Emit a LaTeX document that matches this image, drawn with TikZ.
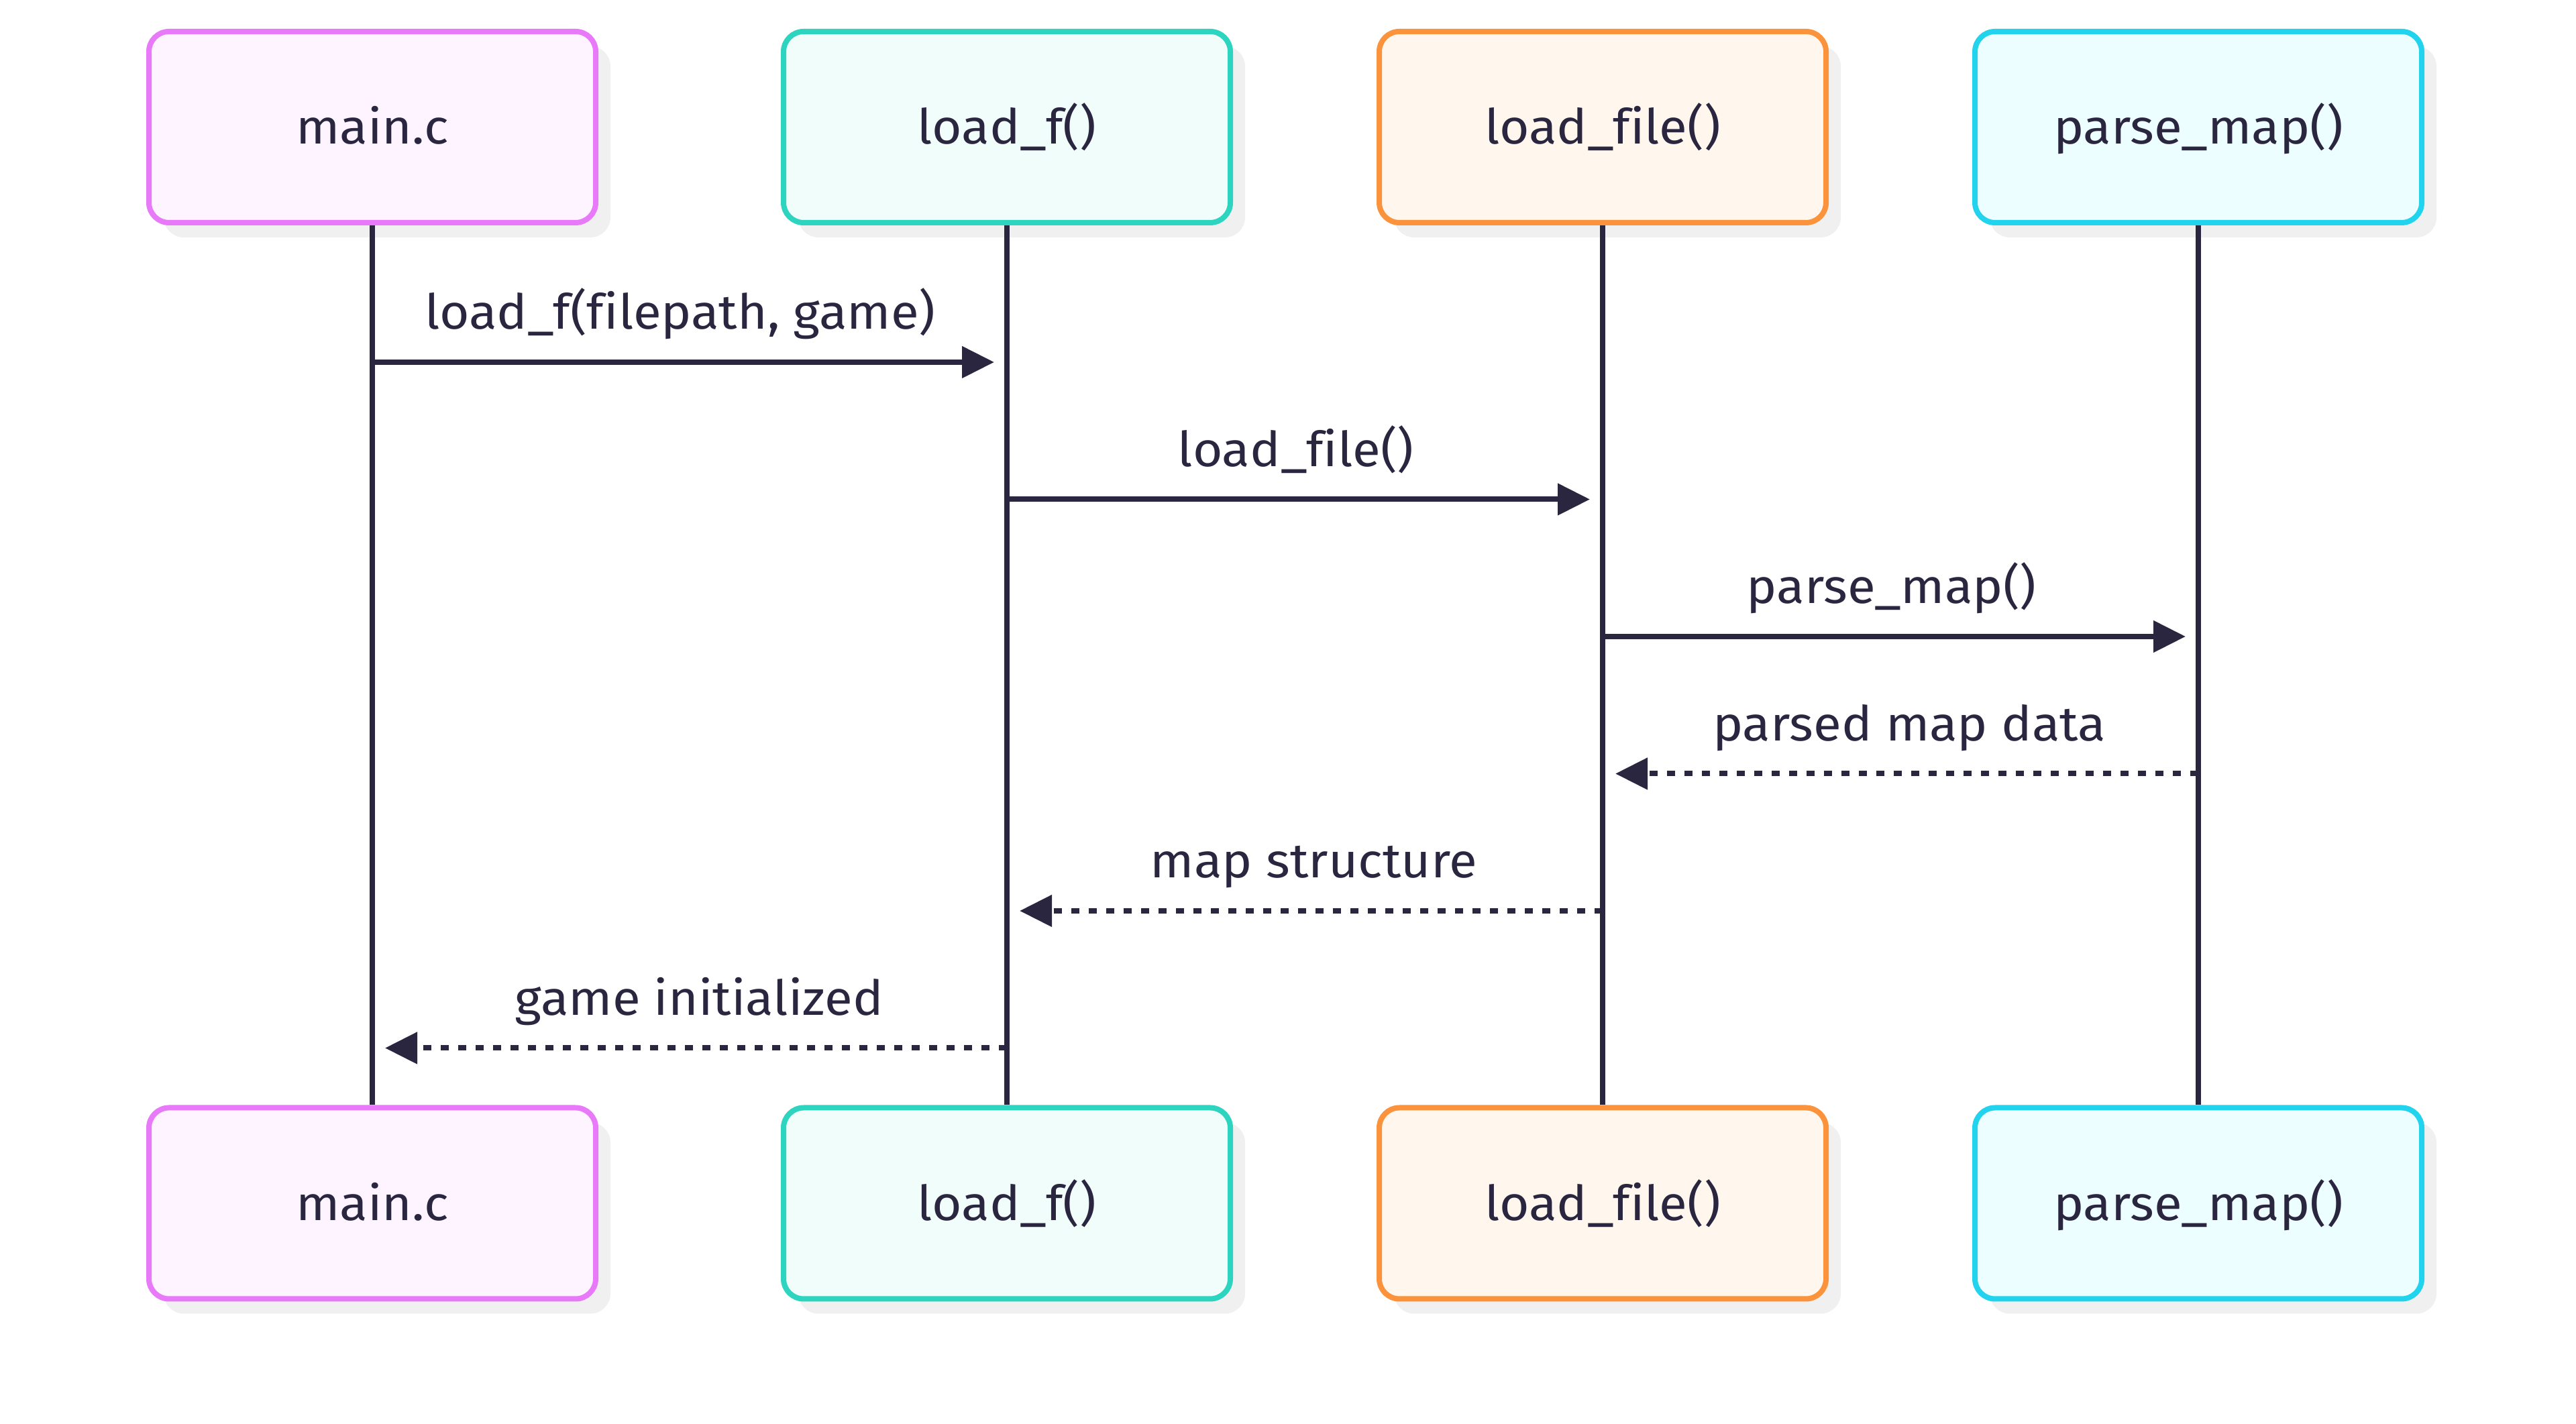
\documentclass[tikz,border=0pt]{standalone}
\usepackage{fontspec}
\setmainfont[FakeStretch=1.06, Ligatures=NoCommon]{Fira Sans}
\usetikzlibrary{arrows.meta,shadows}

\definecolor{ink}{HTML}{2A2640}
\definecolor{mainline}{HTML}{E879F9}
\definecolor{mainfill}{HTML}{FDF4FF}
\definecolor{loadfline}{HTML}{2DD4BF}
\definecolor{loadffill}{HTML}{F0FDFA}
\definecolor{fileline}{HTML}{FB923C}
\definecolor{filefill}{HTML}{FFF7ED}
\definecolor{parseline}{HTML}{22D3EE}
\definecolor{parsefill}{HTML}{ECFEFF}
\definecolor{shade}{HTML}{F0F0F0}

\tikzset{
  actor/.style={draw=#1line, fill=#1fill, line width=0.08cm, rounded corners=0.3cm,
    minimum width=6.66cm, minimum height=2.85cm, inner sep=0pt, text=ink,
    text height=15.5pt, text depth=1pt,
    general shadow={fill=shade, shadow xshift=0.22cm, shadow yshift=-0.22cm}},
  life/.style={ink, line width=0.08cm},
  call/.style={ink, line width=0.08cm, shorten >=0.19cm,
    -{Triangle[length=0.48cm, width=0.46cm]}},
  reply/.style={call, dash pattern=on 0.12cm off 0.14cm},
  msg/.style={pos=0.485, anchor=base, yshift=0.49cm, inner sep=0pt, text=ink},
}

\begin{document}
\begin{tikzpicture}[font=\fontsize{20.5}{24}\selectfont]

  \fill[white] (0,0) rectangle (38.40,21.23);
  \useasboundingbox (0,0) rectangle (38.40,21.23);

  \def\ytop{19.335};
  \def\ybot{3.29};

  %participants and lifelines
  \foreach \x/\name/\lbl in {5.55/main/main.c, 15.01/loadf/load\_f(), 23.89/file/load\_file(), 32.77/parse/parse\_map()}{
      \node[actor=\name] (\name T) at (\x, \ytop) {\lbl};
      \node[actor=\name] (\name B) at (\x, \ybot) {\lbl};
      \draw[life] (\name T.south) -- (\name B.north);
  }

  %messages
  \def\yfirst{15.83};
  \def\dy{2.045};
  \foreach \i/\from/\to/\kind/\lbl in {0/main/loadf/call/{load\_f(filepath, game)},
        1/loadf/file/call/load\_file(), 2/file/parse/call/parse\_map(),
        3/parse/file/reply/parsed map data, 4/file/loadf/reply/map structure,
        5/loadf/main/reply/game initialized}{
      \draw[\kind] (\from T |- 0,\yfirst-\i*\dy) -- (\to T |- 0,\yfirst-\i*\dy) node[msg] {\lbl};
  }

\end{tikzpicture}
\end{document}
